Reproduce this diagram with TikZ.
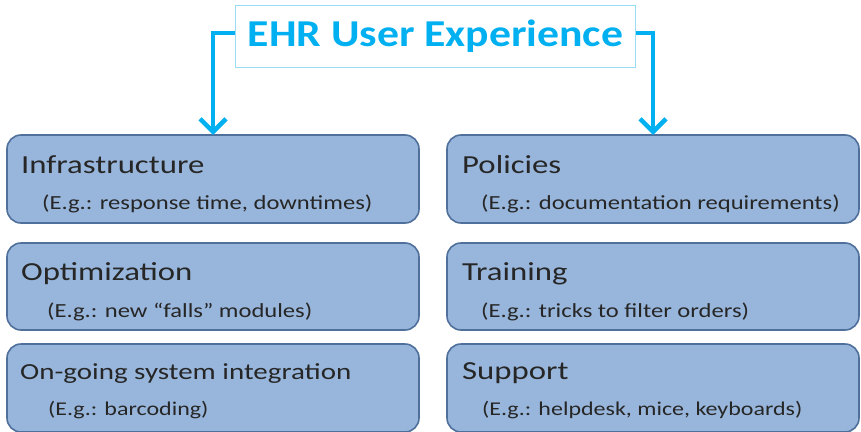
\documentclass[tikz,border=0pt]{standalone}
\usepackage{fontspec}
\setmainfont{Carlito}
\newfontfamily\headfont{Carlito}[FakeStretch=1.26]
\newfontfamily\subfont{Carlito}[FakeStretch=1.23]
\newfontfamily\titlefont{Carlito}[FakeStretch=1.15]
\usetikzlibrary{arrows.meta}
\definecolor{ehrblue}{HTML}{00B0F0}
\definecolor{boxfill}{HTML}{98B6DB}
\definecolor{boxline}{HTML}{50709C}
\definecolor{titleline}{HTML}{9ADCF5}
\begin{document}
\begin{tikzpicture}[x=1pt,y=-1pt,
  catbox/.style={draw=boxline, line width=1.6pt, fill=boxfill, rounded corners=14pt},
  headtxt/.style={anchor=base west, inner sep=0pt, font=\headfont\fontsize{26}{30}\selectfont, text=black!85},
  subtxt/.style={anchor=base west, inner sep=0pt, font=\subfont\fontsize{20}{24}\selectfont, text=black!85},
  link/.style={draw=ehrblue, line width=4.5pt, -{Straight Barb[length=13pt,width=26pt,line width=4.5pt]}}
]
\useasboundingbox (0,0) rectangle (861,431);
% title
\node[draw=titleline, line width=1.8pt, fill=white, minimum width=400pt, minimum height=62pt, inner sep=0pt,
      text=ehrblue, font=\titlefont\fontsize{38}{44}\selectfont\bfseries] (title) at (435.5,36.5) {EHR User Experience};
% boxes
\draw[catbox] (7,135) rectangle (419,223);
\node[headtxt] (infra) at (21,173) {Infrastructure};
\node[subtxt] (infras) at (42,209) {(E.g.: response time, downtimes)};
\draw[catbox] (7,243) rectangle (419,330);
\node[headtxt] (opt) at (21,280) {Optimization};
\node[subtxt] (opts) at (47,317) {(E.g.: new “falls” modules)};
\draw[catbox] (7,344) rectangle (419,432);
\node[headtxt, font=\headfont\fontsize{23}{27}\selectfont] (ong) at (20,379) {On-going system integration};
\node[subtxt, font=\subfont\fontsize{19.5}{23}\selectfont] (ongs) at (48,415) {(E.g.: barcoding)};
\draw[catbox] (447,135) rectangle (859,223);
\node[headtxt] (pol) at (462,173) {Policies};
\node[subtxt] (pols) at (481,209) {(E.g.: documentation requirements)};
\draw[catbox] (447,243) rectangle (859,330);
\node[headtxt] (tra) at (462,280) {Training};
\node[subtxt] (tras) at (481,317) {(E.g.: tricks to filter orders)};
\draw[catbox] (447,344) rectangle (859,432);
\node[headtxt] (sup) at (462,379) {Support};
\node[subtxt, font=\subfont\fontsize{19.5}{23}\selectfont] (sups) at (482,415) {(E.g.: helpdesk, mice, keyboards)};
% connectors
\coordinate (lend) at (213,135);
\coordinate (rend) at (653,135);
\draw[link] (title.west |- 0,33) -| (lend);
\draw[link] (title.east |- 0,33) -| (rend);
\end{tikzpicture}
\end{document}
